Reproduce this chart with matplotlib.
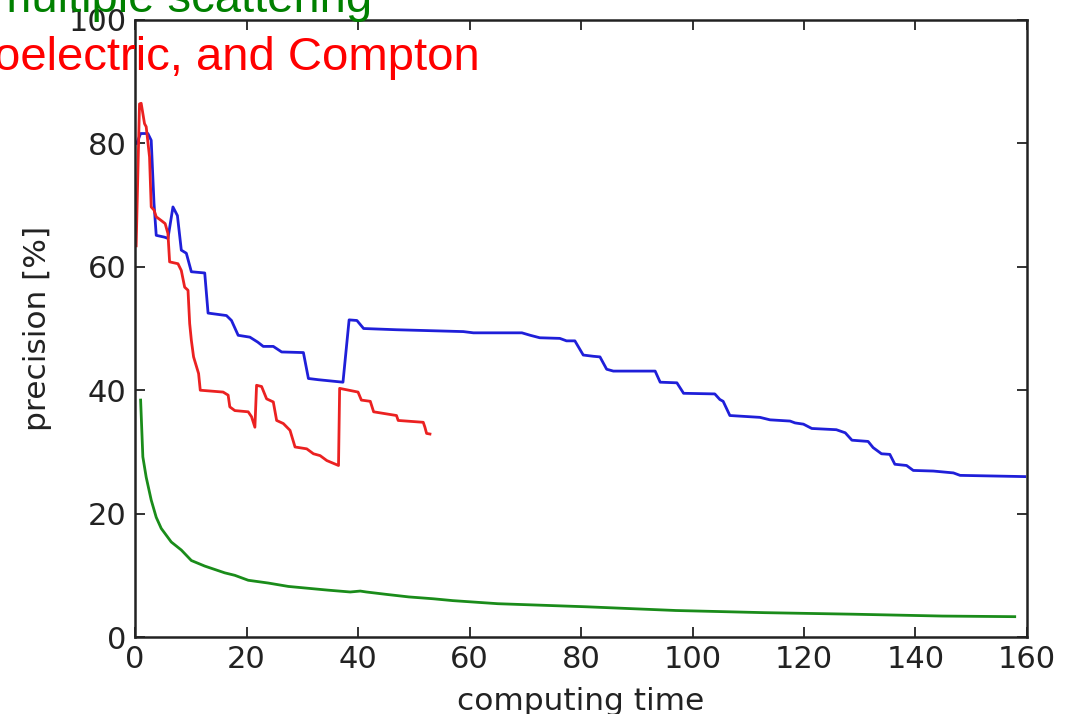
import matplotlib
matplotlib.use("Agg")
from matplotlib import pyplot as plt

# precision vs computing time
blue_x = [0.3, 1.0, 2.3, 2.9, 3.4, 3.8, 5.3, 5.9, 6.8, 7.6, 8.3, 9.2, 10.1, 12.5, 13.1,
          16.4, 17.3, 18.5, 20.6, 22.0, 23.0, 24.8, 26.3, 30.2, 31.1, 32.9, 37.3, 38.4,
          39.8, 41.0, 46.9, 58.9, 60.7, 69.4, 70.9, 72.6, 76.2, 77.4, 78.9, 80.4, 82.2,
          83.4, 84.6, 85.8, 93.3, 94.2, 97.2, 98.4, 104.0, 104.9, 105.5, 106.7, 112.1,
          113.9, 117.5, 118.4, 119.9, 121.4, 125.8, 127.4, 128.6, 131.5, 132.4, 133.9,
          135.4, 136.3, 138.4, 139.6, 143.2, 146.8, 148.0, 159.6]
blue_y = [80.0, 81.6, 81.6, 80.5, 70.3, 65.1, 64.8, 64.6, 69.7, 68.3, 62.7, 62.2, 59.2, 59.0, 52.5,
          52.1, 51.3, 48.9, 48.6, 47.8, 47.1, 47.1, 46.2, 46.1, 41.9, 41.7, 41.3, 51.4,
          51.3, 50.0, 49.8, 49.5, 49.3, 49.3, 48.9, 48.5, 48.4, 48.0, 48.0, 45.7, 45.5,
          45.4, 43.4, 43.1, 43.1, 41.3, 41.2, 39.5, 39.4, 38.5, 38.2, 35.9, 35.6,
          35.2, 35.0, 34.7, 34.5, 33.8, 33.6, 33.1, 31.9, 31.7, 30.7, 29.7,
          29.6, 28.0, 27.8, 27.0, 26.9, 26.6, 26.2, 26.0]

red_x = [0.2, 0.8, 1.1, 1.7, 2.0, 2.6, 2.9, 3.4, 3.8, 4.7, 5.4, 5.9, 6.2, 7.7, 8.3, 8.9, 9.5,
         9.8, 10.1, 10.5, 11.4, 11.7, 15.8, 16.7, 17.0, 17.9, 20.3, 20.9, 21.5, 21.8, 22.7,
         23.6, 24.8, 25.4, 26.6, 27.8, 28.7, 30.8, 32.0, 33.2, 34.4, 36.5, 36.7, 40.0,
         40.6, 42.2, 42.8, 46.9, 47.2, 51.7, 52.0, 52.3, 52.9]
red_y = [63.4, 86.4, 86.5, 83.2, 82.7, 77.8, 69.7, 69.2, 68.1, 67.5, 67.0, 65.4, 60.8, 60.5, 59.4, 56.7, 56.2,
         50.8, 48.1, 45.4, 42.7, 40.0, 39.7, 39.2, 37.3, 36.7, 36.5, 35.7, 34.0, 40.8, 40.6,
         38.6, 38.1, 35.1, 34.6, 33.5, 30.8, 30.5, 29.7, 29.4, 28.6, 27.8, 40.3, 39.7,
         38.4, 38.2, 36.5, 35.9, 35.1, 34.8, 34.0, 33.0, 32.9]

green_x = [1.0, 1.4, 2.0, 2.9, 3.8, 4.7, 6.5, 8.3, 10.1, 12.5, 16.1, 17.9, 20.3, 23.9, 27.5,
           34.6, 38.6, 40.4, 41.5, 45.2, 49.1, 53.5, 57.0, 65.1, 81.0, 97.0, 112.9, 128.8,
           144.8, 157.8]
green_y = [38.4, 29.2, 25.9, 22.2, 19.4, 17.6, 15.4, 14.1, 12.4, 11.5, 10.4, 10.0, 9.2, 8.75, 8.2,
           7.6, 7.3, 7.45, 7.3, 6.9, 6.5, 6.2, 5.9, 5.4, 4.9, 4.3, 3.95, 3.7,
           3.4, 3.3]

xticks = [0, 20, 40, 60, 80, 100, 120, 140, 160]
yticks = [0, 20, 40, 60, 80, 100]

fig = plt.figure(figsize=(10.65, 7.14), dpi=100)
ax = fig.add_axes([0.1268, 0.1078, 0.8375, 0.8642])

ax.plot(blue_x, blue_y, color=(0.12, 0.12, 0.85), lw=2.0)
ax.plot(red_x, red_y, color=(0.92, 0.13, 0.13), lw=2.0)
ax.plot(green_x, green_y, color=(0.1, 0.55, 0.1), lw=2.0)

ax.set_xlim(0, 160)
ax.set_ylim(0, 100)
ax.set_xticks(xticks)
ax.set_yticks(yticks)
ax.tick_params(direction='in', top=True, right=True, length=7, width=1.3,
               labelsize=22, pad=6, colors='#222222')
for sp in ax.spines.values():
    sp.set_linewidth(1.8)
    sp.set_color('#222222')

ax.set_xlabel('computing time', fontsize=22.5, labelpad=9, color='#222222')
ax.set_ylabel('precision [%]', fontsize=22.5, labelpad=12, color='#222222')

# legend-like captions, partly cut off by the figure edge
fig.text(372 / 1065, 1 - 12 / 714, 'multiple scattering', color='green',
         fontsize=34, family='Liberation Sans', ha='right', va='baseline')
fig.text(480 / 1065, 1 - 70 / 714, 'photoelectric, and Compton', color='red',
         fontsize=34, family='Liberation Sans', ha='right', va='baseline')

fig.savefig('out.png', dpi=100)
